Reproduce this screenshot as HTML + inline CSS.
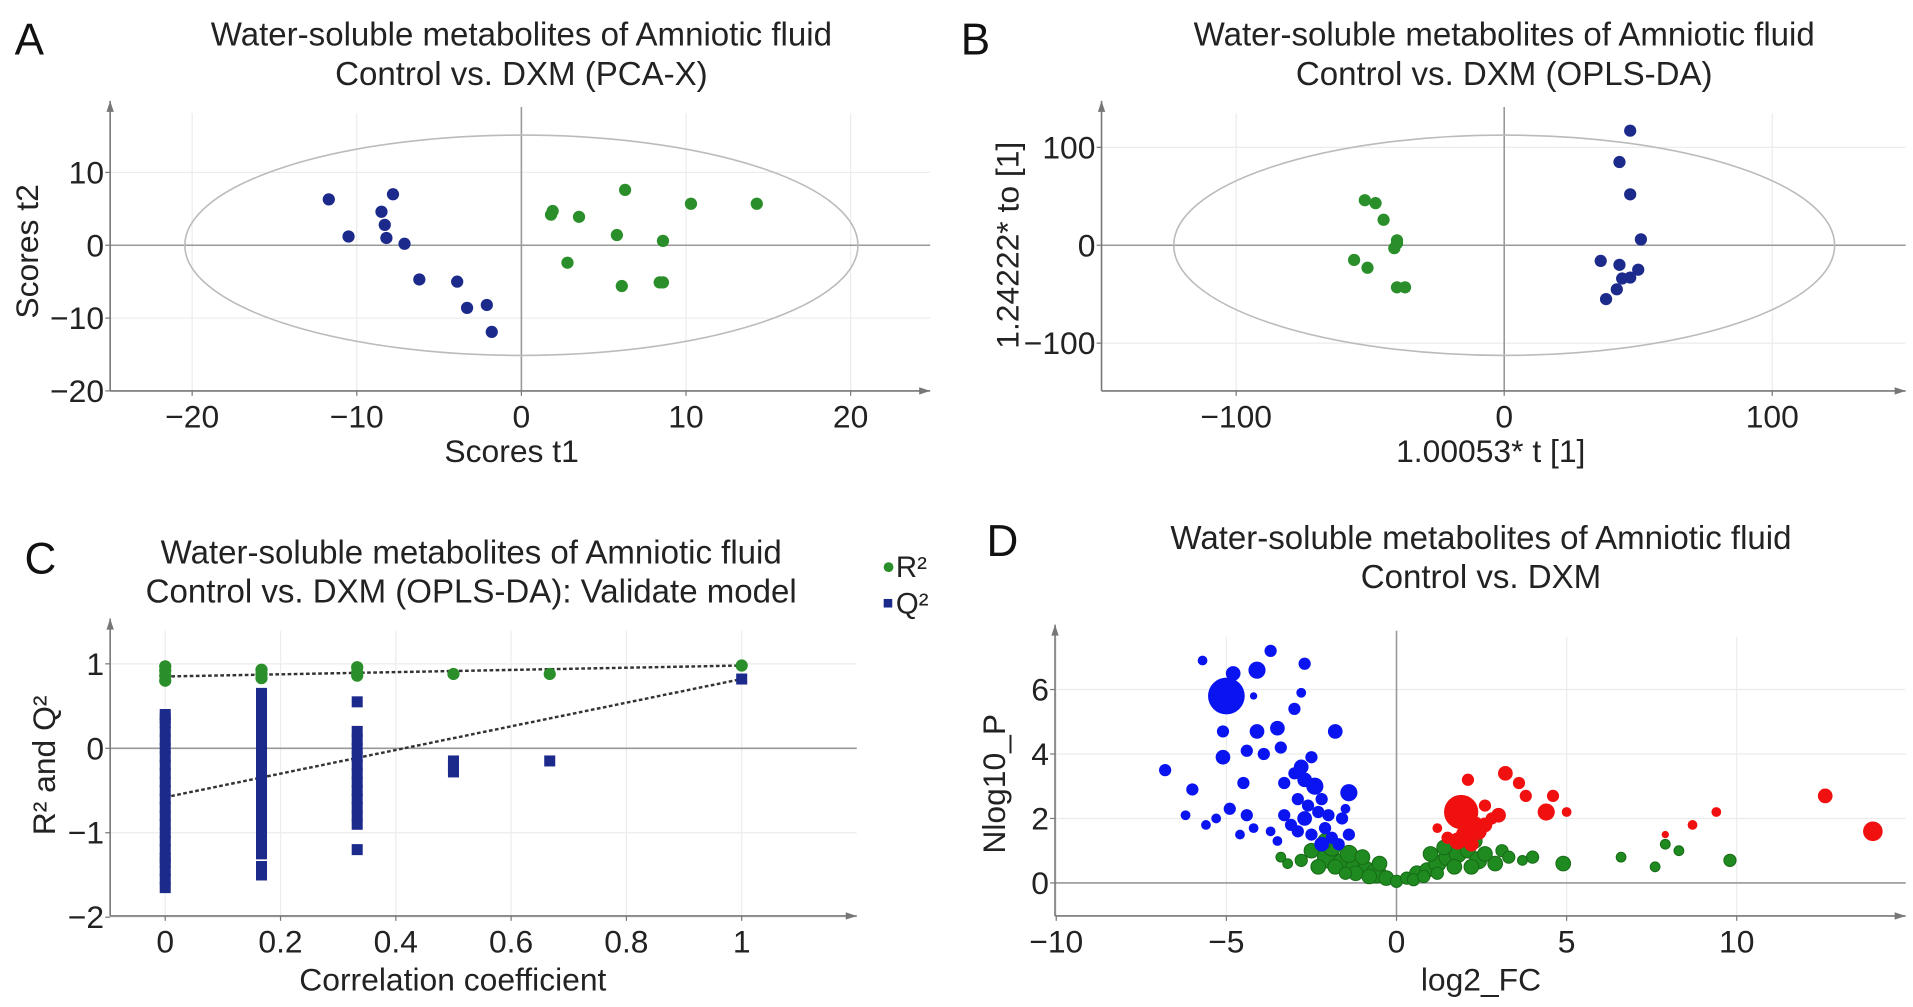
<!DOCTYPE html>
<html><head><meta charset="utf-8"><style>
html,body{margin:0;padding:0;background:#fff;}
svg{display:block;font-family:"Liberation Sans",Arial,sans-serif;}
</style></head><body>
<svg id="fig" width="1913" height="1007" viewBox="0 0 1563 822" xmlns="http://www.w3.org/2000/svg">
<g id="gA"></g>
<g id="gB"></g>
<g id="gC"></g>
<g id="gD"></g>
</svg>
<script>
// Panel A data
const aBlueX=[-11.7,-10.5,-8.5,-8.3,-8.2,-7.8,-7.1,-6.2,-3.9,-3.3,-2.1,-1.8];
const aBlueY=[6.3,1.2,4.6,2.8,1.0,7.0,0.2,-4.7,-5.0,-8.6,-8.2,-11.9];
const aGreenX=[1.8,1.9,3.5,6.3,10.3,14.3,5.8,8.6,2.8,6.1,8.4,8.6];
const aGreenY=[4.2,4.7,3.9,7.6,5.7,5.7,1.4,0.6,-2.4,-5.6,-5.1,-5.1];
const aXTicks=[-20,-10,0,10,20];
const aYTicks=[10,0,-10,-20];
// Panel B data
const bGreenX=[-52,-48,-45,-40,-40,-41,-56,-51,-40,-37];
const bGreenY=[46,43,26,5,2,-3,-15,-23,-43,-43];
const bBlueX=[47,43,47,51,36,43,50,47,44,42,38];
const bBlueY=[117,85,52,6,-16,-20,-25,-33,-34,-45,-55];
const bXTicks=[-100,0,100];
const bYTicks=[100,0,-100];
// Panel C data
const cR2X=[0,0,0,0,0.167,0.167,0.167,0.333,0.333,0.333,0.5,0.667,1];
const cR2Y=[0.97,0.92,0.86,0.8,0.93,0.88,0.83,0.96,0.9,0.86,0.88,0.88,0.98];
const cQ2X=[0,0,0,0,0,0,0,0,0,0,0,0,0,0,0,0,0,0,0,0,0,0,0,0.167,0.167,0.167,0.167,0.167,0.167,0.167,0.167,0.167,0.167,0.167,0.167,0.167,0.167,0.167,0.167,0.167,0.167,0.167,0.167,0.167,0.167,0.333,0.333,0.333,0.333,0.333,0.333,0.333,0.333,0.333,0.333,0.333,0.333,0.333,0.333,0.5,0.5,0.5,0.667,1];
const cQ2Y=[0.4,0.3,0.2,0.1,0,-0.1,-0.2,-0.3,-0.4,-0.5,-0.6,-0.7,-0.8,-0.9,-1.0,-1.1,-1.2,-1.3,-1.35,-1.45,-1.55,-1.65,0.35,0.65,0.55,0.45,0.35,0.25,0.15,0.05,-0.05,-0.15,-0.25,-0.35,-0.45,-0.55,-0.65,-0.75,-0.85,-0.95,-1.05,-1.15,-1.25,-1.4,-1.5,0.55,0.2,0.1,0,-0.1,-0.2,-0.3,-0.4,-0.5,-0.6,-0.7,-0.8,-0.9,-1.2,-0.15,-0.22,-0.28,-0.15,0.82];
const cR2Line=[0.85,0.98];
const cQ2Line=[-0.58,0.82];
const cXTicks=[0,0.2,0.4,0.6,0.8,1];
const cYTicks=[1,0,-1,-2];
// Panel D data
const dBlueX=[-5,-5.7,-4.8,-4.1,-3.7,-2.7,-2.8,-4.2,-3,-5.1,-4.1,-3.5,-1.8,-3.4,-5.1,-4.4,-3.9,-2.5,-2.8,-3,-2.7,-2.4,-1.4,-6.8,-6,-4.5,-2.6,-2.3,-6.2,-5.3,-4.9,-4.4,-4.2,-3.3,-3.1,-2.7,-2.9,-2,-1.6,-1.4,-3.5,-4.6,-2.5,-1.9,-2.2,-1.7,-5.6,-3.7,-2.1,-2.9,-3.3,-2.2,-1.5];
const dBlueY=[5.8,6.9,6.5,6.6,7.2,6.8,5.9,5.8,5.4,4.7,4.7,4.8,4.7,4.2,3.9,4.1,4,3.9,3.6,3.4,3.2,3,2.8,3.5,2.9,3.1,2.4,2.2,2.1,2,2.3,2.1,1.7,2.1,1.8,2,1.6,2.1,2,1.5,1.3,1.5,1.5,1.4,1.2,1.2,1.8,1.6,1.7,2.6,3.1,2.6,2.3];
const dBlueS=[15,4,6,7,5,5,4,3,5,5,6,6,6,5,6,5,5,5,6,5,6,7,7,5,5,5,5,5,4,4,5,5,4,5,5,6,5,5,5,5,4,4,5,5,6,5,4,4,5,5,5,5,4];
const dRedX=[1.9,1.2,1.5,2,2.3,2.6,2.8,2.4,1.8,2.2,2.1,3.2,3.6,3.8,4.6,4.4,5,8.7,9.4,7.9,12.6,14,3,2.6];
const dRedY=[2.2,1.7,1.4,1.5,1.8,1.8,2,1.6,1.3,1.2,3.2,3.4,3.1,2.7,2.7,2.2,2.2,1.8,2.2,1.5,2.7,1.6,2.1,2.4];
const dRedS=[14,4,5,7,7,6,5,7,7,6,5,6,5,5,5,7,4,4,4,3,6,8,6,5];
const dGreenX=[-2,-1.6,-1.2,-0.9,-0.6,-0.3,0,0.3,0.6,0.9,1.2,1.5,1.8,2.1,2.4,2.9,3.1,3.7,4,4.9,-3.4,-3.2,-2.5,-2.3,-1.9,-1.4,-1,-0.5,1,1.4,1.7,2.2,2.6,3.3,-2.8,-1.8,-1.2,0.5,6.6,7.6,7.9,8.3,9.8,2.3,-2.1,-0.8,0.8,1.2,-1.5];
const dGreenY=[0.8,0.6,0.5,0.4,0.3,0.15,0.05,0.15,0.3,0.4,0.6,0.8,0.9,1,0.7,0.6,1,0.7,0.8,0.6,0.8,0.6,1,0.5,1.1,0.9,0.8,0.6,0.9,1.1,0.5,0.5,0.9,0.8,0.7,0.5,0.3,0.1,0.8,0.5,1.2,1,0.7,1.3,1.3,0.2,0.2,0.3,0.3];
const dGreenS=[9,8,8,7,8,6,5,5,6,6,7,7,7,6,7,6,5,4,5,6,4,4,6,6,7,7,6,6,6,6,6,6,6,5,5,6,6,5,4,4,4,4,5,6,6,6,5,5,5];
const dXTicks=[-10,-5,0,5,10];
const dYTicks=[0,2,4,6];

const NS="http://www.w3.org/2000/svg";
const TF=26, TT=27, AT=26;
function mk(parent,tag,attrs,name,text){
  const el=document.createElementNS(NS,tag);
  for(const k in attrs) el.setAttribute(k,attrs[k]);
  
  
  if(text!==undefined) el.textContent=text;
  parent.appendChild(el);return el;
}
function lin(d0,d1,p0,p1){return v=>p0+(v-d0)*(p1-p0)/(d1-d0);}
function frame(g,o){
  o.xt.forEach(t=>mk(g,'line',{x1:o.sx(t),x2:o.sx(t),y1:o.top+10,y2:o.bottom,stroke:'#ececec','stroke-width':1},'x-gridline'));
  o.yt.forEach(t=>mk(g,'line',{x1:o.left,x2:o.right,y1:o.sy(t),y2:o.sy(t),stroke:'#ececec','stroke-width':1},'y-gridline'));
  if(o.zero){
    mk(g,'line',{x1:o.left,x2:o.right,y1:o.sy(0),y2:o.sy(0),stroke:'#999','stroke-width':1.3},'zero-line-horizontal');
    if(o.zeroV) mk(g,'line',{x1:o.sx(0),x2:o.sx(0),y1:o.top+5,y2:o.bottom,stroke:'#999','stroke-width':1.3},'zero-line-vertical');
  }
  mk(g,'line',{x1:o.left,x2:o.left,y1:o.top,y2:o.bottom,stroke:'#777','stroke-width':1.3},'y-axis-line');
  mk(g,'line',{x1:o.left,x2:o.right,y1:o.bottom,y2:o.bottom,stroke:'#777','stroke-width':1.3},'x-axis-line');
  mk(g,'path',{d:`M${o.left-3},${o.top+9} L${o.left},${o.top} L${o.left+3},${o.top+9}Z`,fill:'#777'},'y-axis-arrow');
  mk(g,'path',{d:`M${o.right-9},${o.bottom-3} L${o.right},${o.bottom} L${o.right-9},${o.bottom+3}Z`,fill:'#777'},'x-axis-arrow');
  o.xt.forEach(t=>{
    mk(g,'line',{x1:o.sx(t),x2:o.sx(t),y1:o.bottom,y2:o.bottom+4,stroke:'#777'},'x-tick');
    mk(g,'text',{x:o.sx(t),y:o.bottom+30,'font-size':TF,'text-anchor':'middle',fill:'#222'},'x-tick-label',String(t).replace('-','−'));
  });
  o.yt.forEach(t=>{
    mk(g,'line',{x1:o.left-4,x2:o.left,y1:o.sy(t),y2:o.sy(t),stroke:'#777'},'y-tick');
    mk(g,'text',{x:o.left-5,y:o.sy(t)+9,'font-size':TF,'text-anchor':'end',fill:'#222'},'y-tick-label',String(t).replace('-','−'));
  });
}
function title(g,x,y,l1,l2,letter,lx,ly){
  mk(g,'text',{x:x,y:y,'font-size':TT,'text-anchor':'middle',fill:'#222'},'chart-title-line1',l1);
  mk(g,'text',{x:x,y:y+32,'font-size':TT,'text-anchor':'middle',fill:'#222'},'chart-title-line2',l2);
  mk(g,'text',{x:lx,y:ly,'font-size':36,fill:'#111'},'panel-letter',letter);
}
// A
(function(){
  const g=document.getElementById('gA');
  const sx=lin(0,20,426,695), sy=lin(0,-20,200,319);
  title(g,426,37,'Water-soluble metabolites of Amniotic fluid','Control vs. DXM (PCA-X)','A',12,44);
  frame(g,{sx,sy,xt:aXTicks,yt:aYTicks,left:90,right:760,top:82,bottom:319,zero:true,zeroV:true});
  mk(g,'ellipse',{cx:sx(0),cy:sy(0),rx:275,ry:90,fill:'none',stroke:'#bbb','stroke-width':1.3},'hotelling-ellipse');
  aBlueX.forEach((v,i)=>mk(g,'circle',{cx:sx(v),cy:sy(aBlueY[i]),r:5,fill:'#1c2a8c'},'point-dxm'));
  aGreenX.forEach((v,i)=>mk(g,'circle',{cx:sx(v),cy:sy(aGreenY[i]),r:5,fill:'#2a8f2a'},'point-control'));
  mk(g,'text',{x:418,y:377,'font-size':AT,'text-anchor':'middle',fill:'#222'},'x-axis-title','Scores t1');
  mk(g,'text',{x:31,y:205,'font-size':AT,'text-anchor':'middle',fill:'#222',transform:'rotate(-90 31 205)'},'y-axis-title','Scores t2');
})();
// B
(function(){
  const g=document.getElementById('gB');
  const sx=lin(0,100,1229,1448), sy=lin(0,100,200,120);
  title(g,1229,37,'Water-soluble metabolites of Amniotic fluid','Control vs. DXM (OPLS-DA)','B',785,44);
  frame(g,{sx,sy,xt:bXTicks,yt:bYTicks,left:900,right:1557,top:82,bottom:319,zero:true,zeroV:true});
  mk(g,'ellipse',{cx:sx(0),cy:sy(0),rx:270,ry:90,fill:'none',stroke:'#bbb','stroke-width':1.3},'hotelling-ellipse');
  bGreenX.forEach((v,i)=>mk(g,'circle',{cx:sx(v),cy:sy(bGreenY[i]),r:5,fill:'#2a8f2a'},'point-control'));
  bBlueX.forEach((v,i)=>mk(g,'circle',{cx:sx(v),cy:sy(bBlueY[i]),r:5,fill:'#1c2a8c'},'point-dxm'));
  mk(g,'text',{x:1218,y:377,'font-size':AT,'text-anchor':'middle',fill:'#222'},'x-axis-title','1.00053* t [1]');
  mk(g,'text',{x:832,y:200,'font-size':AT,'text-anchor':'middle',fill:'#222',transform:'rotate(-90 832 200)'},'y-axis-title','1.24222* to [1]');
})();
// C
(function(){
  const g=document.getElementById('gC');
  const sx=lin(0,1,135,606), sy=lin(0,1,611,542);
  title(g,385,460,'Water-soluble metabolites of Amniotic fluid','Control vs. DXM (OPLS-DA): Validate model','C',20,468);
  frame(g,{sx,sy,xt:cXTicks,yt:cYTicks,left:90,right:700,top:505,bottom:748,zero:true,zeroV:false});
  mk(g,'line',{x1:sx(0),y1:sy(cR2Line[0]),x2:sx(1),y2:sy(cR2Line[1]),stroke:'#333','stroke-width':2,'stroke-dasharray':'3,2'},'r2-trend-line');
  mk(g,'line',{x1:sx(0),y1:sy(cQ2Line[0]),x2:sx(1),y2:sy(cQ2Line[1]),stroke:'#333','stroke-width':2,'stroke-dasharray':'3,2'},'q2-trend-line');
  cQ2X.forEach((v,i)=>mk(g,'rect',{x:sx(v)-4.5,y:sy(cQ2Y[i])-4.5,width:9,height:9,fill:'#1c2a8c'},'q2-point'));
  cR2X.forEach((v,i)=>mk(g,'circle',{cx:sx(v),cy:sy(cR2Y[i]),r:5,fill:'#2a8f2a'},'r2-point'));
  mk(g,'circle',{cx:726,cy:463,r:4,fill:'#2a8f2a'},'legend-r2-marker');
  mk(g,'text',{x:732,y:471,'font-size':24,fill:'#222'},'legend-r2-label','R²');
  mk(g,'rect',{x:722,y:489,width:7,height:7,fill:'#1c2a8c'},'legend-q2-marker');
  mk(g,'text',{x:732,y:501,'font-size':24,fill:'#222'},'legend-q2-label','Q²');
  mk(g,'text',{x:370,y:809,'font-size':AT,'text-anchor':'middle',fill:'#222'},'x-axis-title','Correlation coefficient');
  mk(g,'text',{x:45,y:625,'font-size':AT,'text-anchor':'middle',fill:'#222',transform:'rotate(-90 45 625)'},'y-axis-title','R² and Q²');
})();
// D
(function(){
  const g=document.getElementById('gD');
  const sx=lin(0,10,1141,1419), sy=lin(0,6,721,563);
  title(g,1210,448,'Water-soluble metabolites of Amniotic fluid','Control vs. DXM','D',806,454);
  frame(g,{sx,sy,xt:dXTicks,yt:dYTicks,left:862,right:1557,top:510,bottom:748,zero:true,zeroV:true});
  dGreenX.forEach((v,i)=>mk(g,'circle',{cx:sx(v),cy:sy(dGreenY[i]),r:dGreenS[i],fill:'#1f8a1f',stroke:'#176a17','stroke-width':0.8},'point-unchanged'));
  dBlueX.forEach((v,i)=>mk(g,'circle',{cx:sx(v),cy:sy(dBlueY[i]),r:dBlueS[i],fill:'#0a14f0'},'point-down'));
  dRedX.forEach((v,i)=>mk(g,'circle',{cx:sx(v),cy:sy(dRedY[i]),r:dRedS[i],fill:'#f01010'},'point-up'));
  mk(g,'text',{x:1210,y:809,'font-size':AT,'text-anchor':'middle',fill:'#222'},'x-axis-title','log2_FC');
  mk(g,'text',{x:821,y:640,'font-size':AT,'text-anchor':'middle',fill:'#222',transform:'rotate(-90 821 640)'},'y-axis-title','Nlog10_P');
})();
</script>
</body></html>
